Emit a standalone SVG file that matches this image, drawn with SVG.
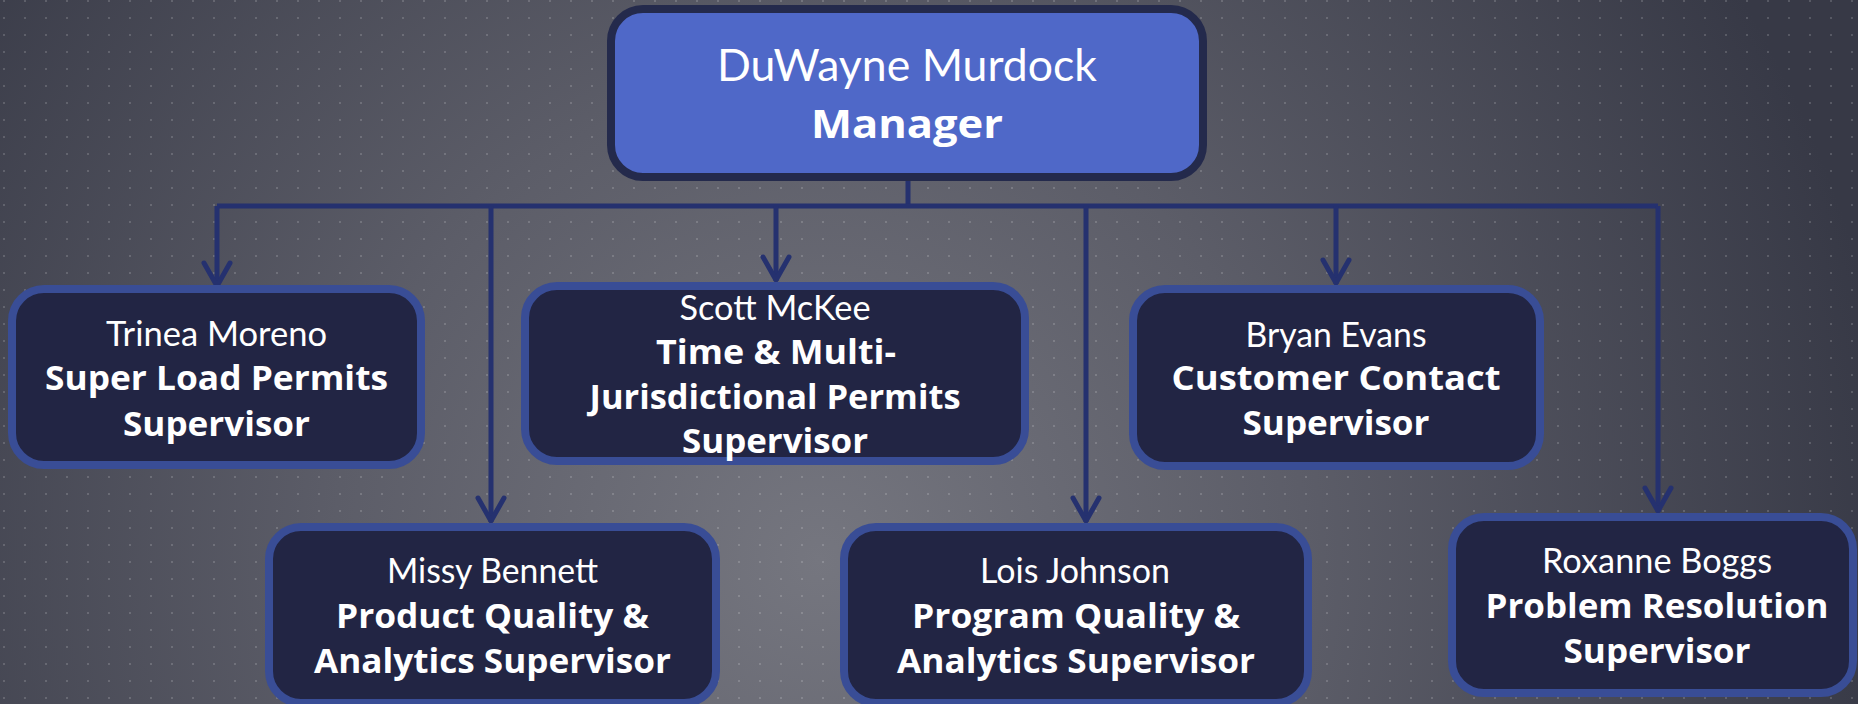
<svg xmlns="http://www.w3.org/2000/svg" width="1858" height="704" viewBox="0 0 1858 704">
<style>
.bg-dot{fill:#ffffff;fill-opacity:0.16}
.node rect{fill:#222544;stroke:#394d96;stroke-width:8}
#manager rect{fill:#4f68c8;stroke:#242a4c;stroke-width:8}
.name{font-family:Lato,"Open Sans",sans-serif;font-size:35px;fill:#ffffff;text-anchor:middle}
.title{font-family:"Open Sans",Lato,sans-serif;font-weight:700;font-size:34px;fill:#ffffff;text-anchor:middle}
#manager .name{font-size:45px}
#manager .title{font-size:40px}
.conn path{fill:none;stroke:#25316f;stroke-width:5}
.arrowhead{fill:none;stroke:#25316f;stroke-width:5;stroke-linejoin:round;stroke-linecap:round}
</style>
<defs>
<radialGradient id="bgGrad" gradientUnits="userSpaceOnUse" cx="820" cy="560" r="1080">
<stop offset="0" stop-color="#75767f"/>
<stop offset="0.45" stop-color="#5c5d68"/>
<stop offset="1" stop-color="#373946"/>
</radialGradient>
<pattern id="dots" patternUnits="userSpaceOnUse" x="3" y="0" width="21" height="17">
<rect class="bg-dot" x="0" y="0" width="2" height="2"/>
</pattern>
<marker id="arrow" markerUnits="userSpaceOnUse" markerWidth="32" markerHeight="32" viewBox="-30 -16 32 32" refX="0" refY="0" orient="auto" overflow="visible">
<path class="arrowhead" d="M-24,-13 L-1,0 L-24,13"/>
</marker>
</defs>
<rect width="1858" height="704" fill="url(#bgGrad)"/>
<rect width="1858" height="704" fill="url(#dots)"/>

<g id="connectors" class="conn">
<path d="M908,181 V206"/>
<path d="M217,206 H1658"/>
<path d="M217,206 V287" marker-end="url(#arrow)"/>
<path d="M491,206 V522" marker-end="url(#arrow)"/>
<path d="M776,206 V281" marker-end="url(#arrow)"/>
<path d="M1086,206 V522" marker-end="url(#arrow)"/>
<path d="M1336,206 V284" marker-end="url(#arrow)"/>
<path d="M1658,206 V512" marker-end="url(#arrow)"/>
</g>

<g id="manager">
<rect x="611" y="9" width="592" height="168" rx="32"/>
<text class="name" x="907" y="81" textLength="380" lengthAdjust="spacingAndGlyphs">DuWayne Murdock</text>
<text class="title" x="907" y="138" textLength="192" lengthAdjust="spacingAndGlyphs">Manager</text>
</g>

<g id="trinea" class="node">
<rect x="12" y="289" width="409" height="176" rx="32"/>
<text class="name" x="216.5" y="346" textLength="221" lengthAdjust="spacingAndGlyphs">Trinea Moreno</text>
<text class="title" x="216.5" y="390" textLength="343" lengthAdjust="spacingAndGlyphs">Super Load Permits</text>
<text class="title" x="216.5" y="436" textLength="187" lengthAdjust="spacingAndGlyphs">Supervisor</text>
</g>

<g id="scott" class="node">
<rect x="525" y="286" width="500" height="175" rx="32"/>
<text class="name" x="775" y="320" textLength="191" lengthAdjust="spacingAndGlyphs">Scott McKee</text>
<text class="title" x="776" y="364" textLength="240" lengthAdjust="spacingAndGlyphs">Time &amp; Multi-</text>
<text class="title" x="775" y="409" textLength="371" lengthAdjust="spacingAndGlyphs">Jurisdictional Permits</text>
<text class="title" x="775" y="453" textLength="186" lengthAdjust="spacingAndGlyphs">Supervisor</text>
</g>

<g id="bryan" class="node">
<rect x="1133" y="289" width="407" height="177" rx="32"/>
<text class="name" x="1336" y="347" textLength="181" lengthAdjust="spacingAndGlyphs">Bryan Evans</text>
<text class="title" x="1336" y="390" textLength="329" lengthAdjust="spacingAndGlyphs">Customer Contact</text>
<text class="title" x="1336" y="435" textLength="187" lengthAdjust="spacingAndGlyphs">Supervisor</text>
</g>

<g id="missy" class="node">
<rect x="269" y="527" width="447" height="176" rx="32"/>
<text class="name" x="492.5" y="583" textLength="211" lengthAdjust="spacingAndGlyphs">Missy Bennett</text>
<text class="title" x="492.5" y="628" textLength="313" lengthAdjust="spacingAndGlyphs">Product Quality &amp;</text>
<text class="title" x="492.5" y="673" textLength="357" lengthAdjust="spacingAndGlyphs">Analytics Supervisor</text>
</g>

<g id="lois" class="node">
<rect x="844" y="527" width="464" height="176" rx="32"/>
<text class="name" x="1075" y="583" textLength="190" lengthAdjust="spacingAndGlyphs">Lois Johnson</text>
<text class="title" x="1076" y="628" textLength="328" lengthAdjust="spacingAndGlyphs">Program Quality &amp;</text>
<text class="title" x="1076" y="673" textLength="358" lengthAdjust="spacingAndGlyphs">Analytics Supervisor</text>
</g>

<g id="roxanne" class="node">
<rect x="1452" y="517" width="401" height="176" rx="32"/>
<text class="name" x="1657" y="573" textLength="230" lengthAdjust="spacingAndGlyphs">Roxanne Boggs</text>
<text class="title" x="1657" y="618" textLength="343" lengthAdjust="spacingAndGlyphs">Problem Resolution</text>
<text class="title" x="1657" y="663" textLength="187" lengthAdjust="spacingAndGlyphs">Supervisor</text>
</g>
</svg>
